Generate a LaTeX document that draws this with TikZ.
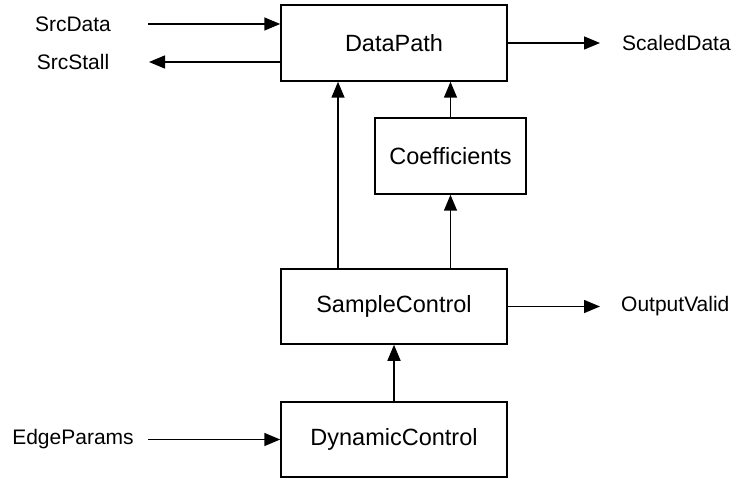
\documentclass[tikz,border=0pt]{standalone}
\usepackage{fontspec}
\setmainfont{Liberation Sans}
\usetikzlibrary{arrows.meta}
\begin{document}
\begin{tikzpicture}[x=1pt,y=-1pt,
  blk/.style={draw,line width=1.5pt,inner sep=0pt,font=\fontsize{23.5}{28}\selectfont},
  lbl/.style={inner sep=0pt,font=\fontsize{21}{25}\selectfont},
  arr/.style={line width=1.5pt,-{Triangle[length=16pt,width=13pt]}}]
\useasboundingbox (0,0) rectangle (735,478);
\node[blk,minimum width=226pt,minimum height=76pt] (dp) at (394,43) {DataPath};
\node[blk,minimum width=151pt,minimum height=76pt] (cf) at (450.5,156) {Coefficients};
\node[blk,minimum width=226pt,minimum height=75pt] (sc) at (394,306.5) {SampleControl};
\node[blk,minimum width=226pt,minimum height=75pt] (dc) at (394,439.5) {DynamicControl};
\node[lbl] (srcdata) at (73,24) {SrcData};
\node[lbl] (srcstall) at (73,62) {SrcStall};
\node[lbl,anchor=west] (scaled) at (622,43) {ScaledData};
\node[lbl,anchor=west] (outv) at (621,306.5) {OutputValid};
\node[lbl] (edge) at (73,439.5) {EdgeParams};
\coordinate (a1) at (148,24);
\coordinate (a2) at (149,62);
\coordinate (a3) at (600,43);
\coordinate (a4) at (600,306.5);
\coordinate (a5) at (148,439.5);
\coordinate (vx) at (338,0);
\draw[arr] (a1) -- (a1 -| dp.west);
\draw[arr] (a2 -| dp.west) -- (a2);
\draw[arr] (dp.east) -- (a3);
\draw[arr] (sc.east) -- (a4);
\draw[arr] (a5) -- (dc.west);
\draw[arr] (sc.north -| vx) -- (dp.south -| vx);
\draw[arr] (sc.north -| cf) -- (cf.south);
\draw[arr] (cf.north) -- (dp.south -| cf);
\draw[arr] (dc.north) -- (sc.south);
\end{tikzpicture}
\end{document}
